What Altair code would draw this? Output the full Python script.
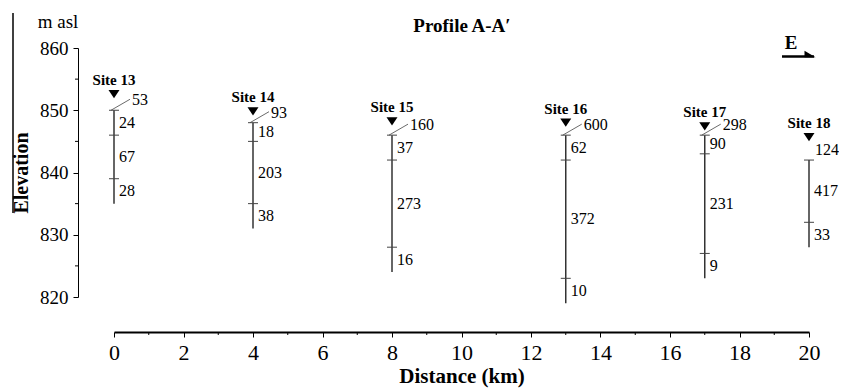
import altair as alt
import pandas as pd

# ---------------- data ----------------
sites = ["Site 13", "Site 14", "Site 15", "Site 16", "Site 17", "Site 18"]
site_km = [0, 4, 8, 13, 17, 20]
top_elev = [850, 848, 846, 846, 846, 842]
inner_bounds = [[846, 839], [845, 835], [842, 828], [842, 823], [843, 827], [832]]
bottom_elev = [835, 831, 824, 819, 823, 828]
top_values = ["53", "93", "160", "600", "298", "124"]
layer_values = [["24", "67", "28"], ["18", "203", "38"], ["37", "273", "16"],
                ["62", "372", "10"], ["90", "231", "9"], ["417", "33"]]
marker_elev = [852.6, 849.8, 848.2, 848.0, 847.4, 845.7]
has_leader = [1, 1, 1, 1, 1, 0]

x_ticks = [0, 2, 4, 6, 8, 10, 12, 14, 16, 18, 20]
x_minor = [1, 3, 5, 7, 9, 11, 13, 15, 17, 19]
y_ticks = [820, 830, 840, 850, 860]
y_minor = [825, 835, 845, 855]

# ---------------- tables ----------------
site_df = pd.DataFrame({
    "site": sites, "km": site_km, "top": top_elev, "bottom": bottom_elev,
    "topval": top_values, "marker": marker_elev, "leader": has_leader,
})

tick_rows, seg_rows = [], []
for i in range(len(sites)):
    edges = [top_elev[i]] + inner_bounds[i]
    for e in edges:
        tick_rows.append({"km": site_km[i], "elev": e})
    allb = edges + [bottom_elev[i]]
    for j, v in enumerate(layer_values[i]):
        seg_rows.append({"km": site_km[i], "elev": (allb[j] + allb[j + 1]) / 2, "val": v})
tick_df = pd.DataFrame(tick_rows)
seg_df = pd.DataFrame(seg_rows)
xminor_df = pd.DataFrame({"km": x_minor, "elev": [820] * len(x_minor)})
yminor_df = pd.DataFrame({"km": [0] * len(y_minor), "elev": y_minor})
one = pd.DataFrame({"a": [0]})

FONT = "Liberation Serif"
xscale = alt.Scale(domain=[0, 20], nice=False, zero=False)
yscale = alt.Scale(domain=[820, 860], nice=False, zero=False)
xaxis = alt.Axis(values=x_ticks, offset=35, grid=False, tickSize=5, tickColor="black",
                 domainColor="black", domainWidth=2, labelFont=FONT, labelFontSize=22,
                 labelColor="black", labelPadding=5, title="Distance (km)", titleFont=FONT,
                 titleFontSize=21, titleFontWeight="bold", titleColor="black", titlePadding=2,
                 labelFlush=False)
yaxis = alt.Axis(values=y_ticks, offset=36, grid=False, tickSize=5, tickColor="black",
                 domainColor="black", domainWidth=1, labelFont=FONT, labelFontSize=19,
                 labelColor="black", labelPadding=5, title="Elevation", titleFont=FONT,
                 titleFontSize=20, titleFontWeight="bold", titleColor="black", titlePadding=8)


def X(f):
    return alt.X(f, type="quantitative", scale=xscale, axis=xaxis)


def Y(f):
    return alt.Y(f, type="quantitative", scale=yscale, axis=yaxis)


columns = alt.Chart(site_df).mark_rule(color="#333333", strokeWidth=1.5).encode(
    x=X("km"), y=Y("top"), y2="bottom")

ticks = alt.Chart(tick_df).mark_rule(color="#444444", strokeWidth=1, xOffset=-5, x2Offset=5).encode(
    x=X("km"), x2="km", y=Y("elev"))

leaders = alt.Chart(site_df).transform_filter("datum.leader == 1").mark_rule(
    color="#444444", strokeWidth=0.8, xOffset=-3, x2Offset=16, y2Offset=-11).encode(
    x=X("km"), x2="km", y=Y("top"), y2="top")

top_lab = alt.Chart(site_df).transform_filter("datum.leader == 1").mark_text(
    align="left", baseline="middle", dx=18, dy=-10, font=FONT, fontSize=16, color="black").encode(
    x=X("km"), y=Y("top"), text="topval:N")

top_lab2 = alt.Chart(site_df).transform_filter("datum.leader == 0").mark_text(
    align="left", baseline="middle", dx=6, dy=-10, font=FONT, fontSize=16, color="black").encode(
    x=X("km"), y=Y("top"), text="topval:N")

seg_lab = alt.Chart(seg_df).mark_text(
    align="left", baseline="middle", dx=5, font=FONT, fontSize=16, color="black").encode(
    x=X("km"), y=Y("elev"), text="val:N")

markers = alt.Chart(site_df).mark_point(
    shape="M -1 -0.75 L 1 -0.75 L 0 0.75 Z", filled=True, size=121, color="black", opacity=1).encode(
    x=X("km"), y=Y("marker"))

site_lab = alt.Chart(site_df).mark_text(
    align="center", baseline="alphabetic", dy=-9, font=FONT, fontSize=15, fontWeight="bold",
    color="black").encode(x=X("km"), y=Y("marker"), text="site:N")

xminor = alt.Chart(xminor_df).mark_rule(color="black", strokeWidth=1, yOffset=35, y2Offset=38).encode(
    x=X("km"), y=Y("elev"), y2="elev")

yminor = alt.Chart(yminor_df).mark_rule(color="black", strokeWidth=1, xOffset=-39, x2Offset=-36).encode(
    x=X("km"), x2="km", y=Y("elev"))

# ---------------- decorations ----------------
title = alt.Chart(one).mark_text(font=FONT, fontSize=19, fontWeight="bold", color="black",
                                 align="center", baseline="middle").encode(
    x=alt.value(348), y=alt.value(-22), text=alt.value("Profile A-A\u2032"))

masl = alt.Chart(one).mark_text(font=FONT, fontSize=19, color="black",
                                align="center", baseline="middle").encode(
    x=alt.value(-56), y=alt.value(-26), text=alt.value("m asl"))

east = alt.Chart(one).mark_text(font=FONT, fontSize=19, fontWeight="bold", color="black",
                                align="center", baseline="middle").encode(
    x=alt.value(677), y=alt.value(-5), text=alt.value("E"))

arrow_line = alt.Chart(one).mark_rule(color="black", strokeWidth=2.5).encode(
    x=alt.value(668), x2=alt.value(700), y=alt.value(8.5))

arrow_head = alt.Chart(one).mark_point(
    shape="M -1 -0.6 L 1 0.6 L -1 0.6 Z", filled=True, size=121, color="black", opacity=1).encode(
    x=alt.value(696), y=alt.value(6))

left_line = alt.Chart(one).mark_rule(color="black", strokeWidth=1.5).encode(
    x=alt.value(-101), y=alt.value(-35), y2=alt.value(165))

chart = alt.layer(
    columns, ticks, leaders, top_lab, top_lab2, seg_lab, markers, site_lab, xminor, yminor,
    title, masl, east, arrow_line, arrow_head, left_line,
).properties(
    width=695, height=249,
    padding={"left": 106, "top": 40, "right": 30, "bottom": 92},
    autosize=alt.AutoSizeParams(type="none"),
    background="white",
).configure_view(strokeWidth=0)

chart.save("out.html", embed_options={"renderer": "svg", "actions": False})
